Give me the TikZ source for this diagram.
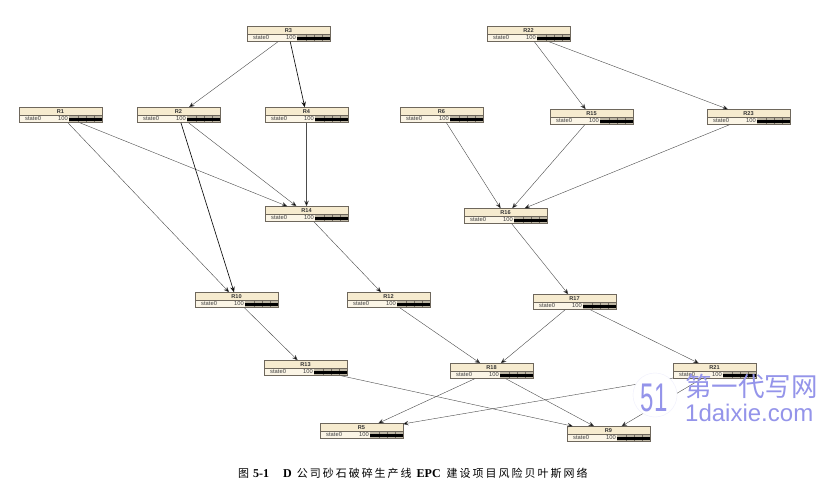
\documentclass[tikz,border=0pt]{standalone}
\usepackage{fontspec}
\setmainfont{Liberation Sans}
\newfontfamily\cjk{Noto Sans CJK SC}
\newfontfamily\cjkcap[LetterSpace=18]{Noto Sans CJK SC}
\newfontfamily\capserif{Liberation Serif}
\usetikzlibrary{arrows.meta}
\definecolor{cream}{HTML}{F6EBCF}
\definecolor{rowbg}{HTML}{FBF5E6}
\definecolor{edgeg}{HTML}{6E675C}
\definecolor{tickg}{HTML}{BDB6A4}
\definecolor{wm}{HTML}{9494EA}
\tikzset{
  bnbox/.style={draw=edgeg,fill=cream,line width=.6pt,minimum width=83pt,minimum height=15.5pt,inner sep=0pt,outer sep=0pt},
  bntitle/.style={font=\bfseries\fontsize{5.6}{6}\selectfont,text=black!80,inner sep=0pt},
  bnstate/.style={font=\fontsize{5.8}{6}\selectfont,text=black!75,inner sep=0pt},
  link/.style={draw=black!70,line width=.4pt,-{Stealth[length=5.5pt,width=4.5pt,fill=black]}},
  heavy/.style={link,draw=black!95,line width=.65pt},
  wmtext/.style={text=wm,inner sep=0pt}
}
\newcommand{\capl}[1]{{\capserif\bfseries\fontsize{12}{12}\selectfont #1}}
\newcommand{\bnnode}[3]{%
  \node[bnbox] (#1) at (#2+41.5,#3+8) {};
  \fill[rowbg] (#2+.4,#3+8) rectangle (#2+82.6,#3+15.5);
  \fill[tickg] (#2+50,#3+8) rectangle (#2+83,#3+15.5);
  \foreach \k in {59,67,75} \draw[edgeg,line width=.4pt] (#2+\k,#3+8) -- (#2+\k,#3+15.5);
  \fill[black] (#2+50,#3+10.6) rectangle (#2+83,#3+14);
  \draw[edgeg,line width=.5pt] (#2,#3+8) -- (#2+83,#3+8);
  \draw[edgeg,line width=.6pt] (#2,#3) rectangle (#2+83,#3+15.5);
  \node[bntitle] (#1t) at (#2+41.5,#3+4.2) {#1};
  \node[bnstate,anchor=west] (#1s) at (#2+6,#3+12) {state0};
  \node[bnstate,anchor=east] (#1v) at (#2+49,#3+12) {100};
}
\begin{document}
\begin{tikzpicture}[x=1pt,y=-1pt]
\useasboundingbox (0,0) rectangle (833,497);
\fill[white] (0,0) rectangle (833,497);
\bnnode{R3}{247}{26}
\bnnode{R22}{487}{26}
\bnnode{R1}{19}{107}
\bnnode{R2}{137}{107}
\bnnode{R4}{265}{107}
\bnnode{R6}{400}{107}
\bnnode{R15}{550}{109}
\bnnode{R23}{707}{109}
\bnnode{R14}{265}{206}
\bnnode{R16}{464}{208}
\bnnode{R10}{195}{292}
\bnnode{R12}{347}{292}
\bnnode{R17}{533}{294}
\bnnode{R13}{264}{360}
\bnnode{R18}{450}{363}
\bnnode{R21}{673}{363}
\bnnode{R5}{320}{423}
\bnnode{R9}{567}{426}
\draw[link] (R3) -- (R2);
\draw[heavy] (R3) -- (R4);
\draw[link] (R22) -- (R15);
\draw[link] (R22) -- (R23);
\draw[link] (R1) -- (R10);
\draw[link] (R1) -- (R14);
\draw[heavy] (R2) -- (R10);
\draw[link] (R2) -- (R14);
\draw[link] (R4) -- (R14);
\draw[link] (R6) -- (R16);
\draw[link] (R15) -- (R16);
\draw[link] (R23) -- (R16);
\draw[link] (R14) -- (R12);
\draw[link] (R16) -- (R17);
\draw[link] (R10) -- (R13);
\draw[link] (R12) -- (R18);
\draw[link] (R17) -- (R18);
\draw[link] (R17) -- (R21);
\draw[link] (R13) -- (R9);
\draw[link] (R18) -- (R5);
\draw[link] (R18) -- (R9);
\draw[link] (R21) -- (R5);
\draw[link] (R21) -- (R9);
% watermark
\fill[white] (655,395) circle (22);
\draw[white!85!wm,line width=.4pt] (655,395) circle (22);
\node[wmtext,font=\fontsize{40}{40}\selectfont,xscale=.6] (wmlogo) at (654,398) {51};
\node[wmtext,font=\cjk\fontsize{26.5}{27}\selectfont,anchor=west] (wmcn) at (685,386) {第一代写网};
\node[wmtext,font=\fontsize{24}{24}\selectfont,anchor=west] (wmen) at (685,413) {1daixie.com};
% caption
\node[inner sep=0pt,anchor=west,font=\fontsize{11}{12}\selectfont] (cap) at (238,473) {\cjkcap 图\hspace{4pt}\capl{5-1}\hspace{14pt}\capl{D}\hspace{5pt}公司砂石破碎生产线\hspace{5pt}\capl{EPC}\hspace{6pt}建设项目风险贝叶斯网络};
\end{tikzpicture}
\end{document}
